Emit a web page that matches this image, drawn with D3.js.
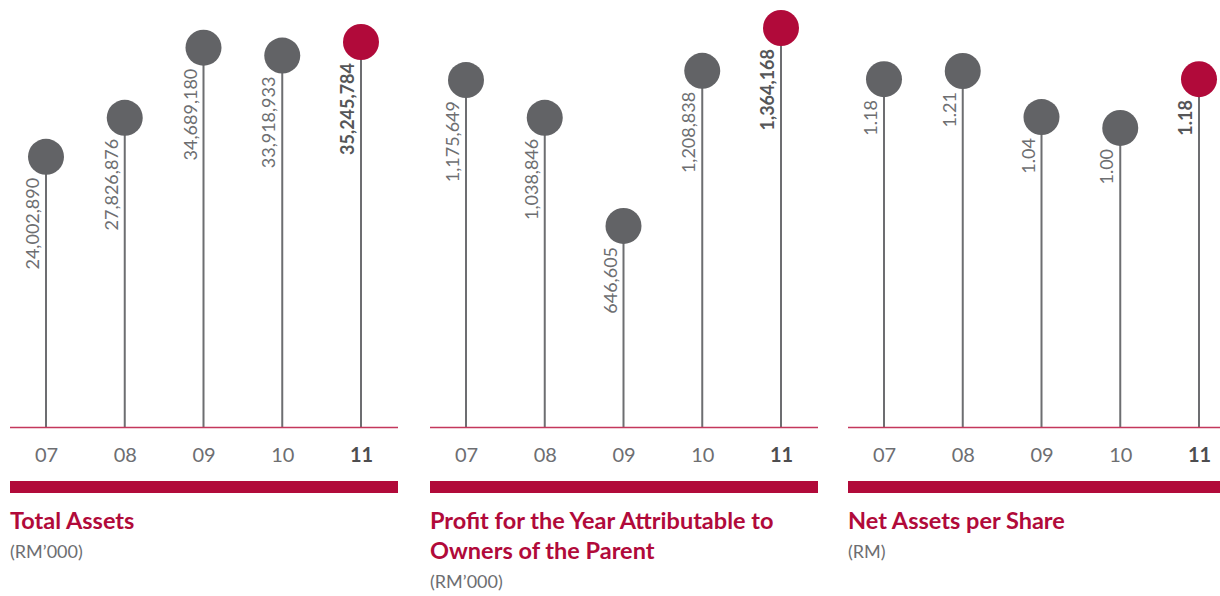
<!DOCTYPE html>
<html>
<head>
<meta charset="utf-8">
<script src="https://cdn.jsdelivr.net/npm/d3@7"></script>
<style>
  body { margin: 0; background: #fff; }
  svg { display: block; font-family: Lato, "Open Sans", sans-serif; }
</style>
</head>
<body>
<div id="chart"></div>
<script>
// datos
const years = ['07', '08', '09', '10', '11'];
const totalAssets = [24002890, 27826876, 34689180, 33918933, 35245784];
const profitParent = [1175649, 1038846, 646605, 1208838, 1364168];
const netAssetsShare = [1.18, 1.21, 1.04, 1.00, 1.18];

const titleAssets = ['Total Assets'];
const titleProfit = ['Profit for the Year Attributable to', 'Owners of the Parent'];
const titleNet = ['Net Assets per Share'];
const unitsAssets = '(RM\u2019000)';
const unitsProfit = '(RM\u2019000)';
const unitsNet = '(RM)';

const WIDTH = 1220;
const HEIGHT = 596;
const BASE_Y = 427;
const RADIUS = 18;
const PANEL_W = 388;

const RED = '#b10a3a';
const GREY_DOT = '#626366';
const STEM = '#6d6e71';
const TEXT = '#6d6e71';

const svg = d3.select('#chart')
  .append('svg')
    .attr('width', WIDTH)
    .attr('height', HEIGHT);

const panels = [
  { left: 10,  values: totalAssets,    domain: [-2450000, 35245784], top: 42, fmt: d3.format(','),   title: titleAssets, units: unitsAssets },
  { left: 430, values: profitParent,   domain: [-82000, 1364168],    top: 28, fmt: d3.format(','),   title: titleProfit, units: unitsProfit },
  { left: 848, values: netAssetsShare, domain: [-0.103, 1.21],       top: 71, fmt: d3.format('.2f'), title: titleNet,    units: unitsNet }
];

function drawPanel(p) {
  const g = svg.append('g').attr('transform', `translate(${p.left}, 0)`);

  const x = d3.scalePoint().domain(years).range([36, 351]);
  const y = d3.scaleLinear().domain(p.domain).range([BASE_Y, p.top]);

  const rows = years.map((yr, i) => ({ year: yr, value: p.values[i], last: i === years.length - 1 }));

  // tallos
  g.selectAll('.stem')
    .data(rows)
    .enter().append('line')
      .attr('class', 'stem')
      .attr('x1', d => x(d.year))
      .attr('x2', d => x(d.year))
      .attr('y1', BASE_Y)
      .attr('y2', d => y(d.value))
      .attr('stroke', STEM)
      .attr('stroke-width', 2);

  // linea base
  g.append('line')
    .attr('x1', 0).attr('x2', PANEL_W)
    .attr('y1', BASE_Y + 0.5).attr('y2', BASE_Y + 0.5)
    .attr('stroke', '#c4375c')
    .attr('stroke-width', 1.5);

  // circulos
  g.selectAll('.dot')
    .data(rows)
    .enter().append('circle')
      .attr('class', 'dot')
      .attr('cx', d => x(d.year))
      .attr('cy', d => y(d.value))
      .attr('r', RADIUS)
      .attr('fill', d => d.last ? RED : GREY_DOT);

  // etiquetas de valores
  g.selectAll('.val')
    .data(rows)
    .enter().append('text')
      .attr('class', 'val')
      .attr('transform', d => `translate(${x(d.year) - 7}, ${y(d.value) + RADIUS + 3}) rotate(-90)`)
      .attr('text-anchor', 'end')
      .attr('fill', d => d.last ? '#555658' : TEXT)
      .style('font-size', '18px')
      .style('font-weight', d => d.last ? 700 : 400)
      .text(d => p.fmt(d.value));

  // eje de anos
  const axis = d3.axisBottom(x).tickSize(0).tickPadding(0);
  const ax = g.append('g')
    .attr('transform', `translate(0, ${BASE_Y})`)
    .call(axis);
  ax.select('.domain').remove();
  ax.selectAll('text')
    .attr('dy', null)
    .attr('y', 35)
    .attr('fill', (d, i) => i === years.length - 1 ? '#4d4d4f' : TEXT)
    .style('font-family', 'Lato, "Open Sans", sans-serif')
    .style('font-size', '20px')
    .style('font-weight', (d, i) => i === years.length - 1 ? 700 : 400);

  // barra roja
  g.append('rect')
    .attr('x', 0).attr('y', 481)
    .attr('width', PANEL_W).attr('height', 12)
    .attr('fill', RED);

  // titulo
  g.selectAll('.title')
    .data(p.title)
    .enter().append('text')
      .attr('class', 'title')
      .attr('x', 0)
      .attr('y', (d, i) => 529 + i * 30)
      .attr('fill', RED)
      .style('font-size', '23.5px')
      .style('font-weight', 700)
      .text(d => d);

  g.append('text')
    .attr('x', 0)
    .attr('y', 558 + (p.title.length - 1) * 30)
    .attr('fill', TEXT)
    .style('font-size', '18px')
    .text(p.units);
}

panels.forEach(drawPanel);
</script>
</body>
</html>
